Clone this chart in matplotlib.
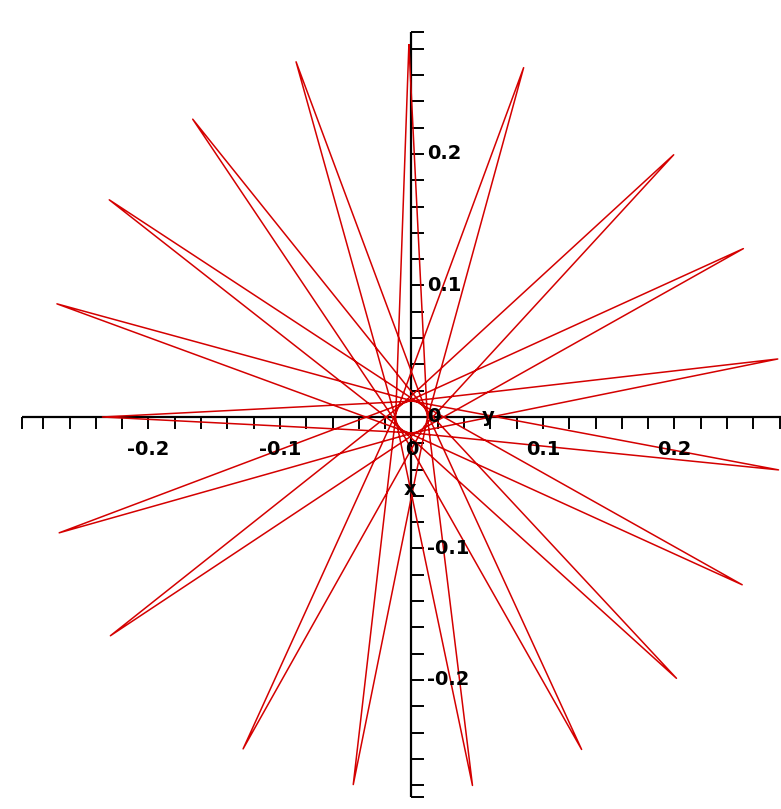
import numpy as np
import matplotlib
matplotlib.use("Agg")
import matplotlib.pyplot as plt

# Vertices of the star curve in drawing order (polar: degrees, radius).
# Outer spike tips alternate with points on the small inner ring where each
# ray skims past the origin on its way to the opposite tip.
vertex_angle_deg = [90.4, 4.9, -80.6, 193.7, 108.0, 22.55, -62.9, 211.7,
                    126.3, 40.85, -44.6, 229.85, 144.3, 58.7, -26.9, 247.7,
                    162.3, 77.05, -8.2, 265.9, 180.0, 94.5, 9.0, 283.6,
                    -161.8, 112.55, 26.9, 301.45, -144.0, 130.5, 45.0, 324.05,
                    -116.9, 157.65, 72.2, 346.6, -99.0, 175.7, 90.4]
vertex_radius = [0.283, 0.012, 0.284, 0.012, 0.284, 0.012, 0.284, 0.012,
                 0.281, 0.012, 0.283, 0.012, 0.283, 0.012, 0.282, 0.012,
                 0.283, 0.012, 0.282, 0.012, 0.235, 0.012, 0.282, 0.012,
                 0.282, 0.012, 0.283, 0.012, 0.283, 0.012, 0.282, 0.012,
                 0.283, 0.012, 0.279, 0.012, 0.283, 0.012, 0.283]

# Axis extents and tick labels
x_axis_range = (-0.296, 0.281)
y_axis_range = (-0.289, 0.293)
minor_ticks = np.round(np.arange(-0.28, 0.2801, 0.02), 2)
label_values = [-0.2, -0.1, 0.0, 0.1, 0.2]
label_texts = ["-0.2", "-0.1", "0", "0.1", "0.2"]
axis_names = ("x", "y")

fig = plt.figure(figsize=(7.81, 8.09), dpi=100)
ax = fig.add_axes([0, 0, 1, 1])
ax.set_xlim(-0.3129, 0.281)
ax.set_ylim(-0.2981, 0.3171)
ax.axis("off")

px = 0.1 / 131.5  # data units per pixel

# axes through the origin
ax.plot(x_axis_range, [0, 0], color="black", lw=1.6, zorder=2, solid_capstyle="butt")
ax.plot([0, 0], y_axis_range, color="black", lw=1.6, zorder=2, solid_capstyle="butt")

xt = list(minor_ticks) + [x_axis_range[0]]
ax.vlines(xt, -12 * px, 0, color="black", lw=1.4, zorder=2)
yt = list(minor_ticks) + list(y_axis_range)
ax.hlines(yt, 0, 13 * px, color="black", lw=1.4, zorder=2)

font = dict(fontsize=14, fontweight="bold", family="DejaVu Sans", color="black")
for v, t in zip(label_values, label_texts):
    ax.text(v, -0.025, t, ha="center", va="center", zorder=4, **font)
    ax.text(0.0118, v, t, ha="left", va="center", zorder=4, **font)

ax.text(0.0582, 0.0, axis_names[1], ha="center", va="center", zorder=4, **font)
ax.text(-0.001, -0.0548, axis_names[0], ha="center", va="center", zorder=4, **font)

# the star curve
theta = np.radians(vertex_angle_deg)
r = np.array(vertex_radius)
ax.plot(r * np.cos(theta), r * np.sin(theta), color="#d40000", lw=1.1,
        zorder=3)

fig.savefig("out.png", dpi=100, facecolor="white")
